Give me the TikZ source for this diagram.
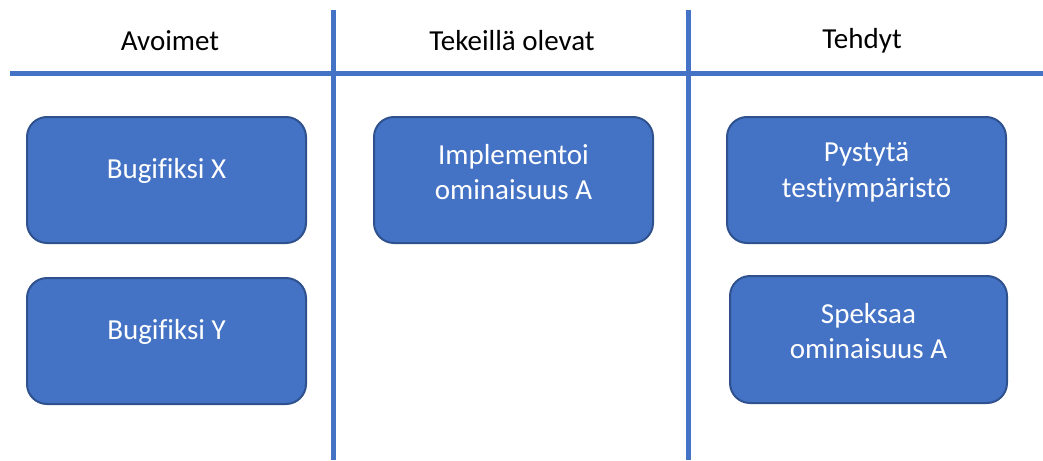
\documentclass[tikz,border=0pt]{standalone}
\usepackage{fontspec}
\setmainfont[Ligatures=NoCommon]{Carlito}
\definecolor{cardfill}{HTML}{4472C4}
\definecolor{cardedge}{HTML}{2F528F}
\definecolor{rule}{HTML}{4472C4}
\tikzset{
  card/.style={draw=cardedge, line width=2pt, fill=cardfill, rounded corners=20pt},
  cardtext/.style={text=white, font=\fontsize{29}{35.5}\selectfont, align=center},
  head/.style={font=\fontsize{29}{34}\selectfont, text=black},
  board/.style={draw=rule, line width=5pt}
}
\begin{document}
\begin{tikzpicture}[x=1pt, y=-1pt]
  \useasboundingbox (0,0) rectangle (1043,460);
  % column rules
  \coordinate (hl) at (10,73);
  \coordinate (hr) at (1043,73);
  \coordinate (v1t) at (333,10);
  \coordinate (v1b) at (333,460);
  \coordinate (v2t) at (688,10);
  \coordinate (v2b) at (688,460);
  \draw[board] (hl) -- (hr);
  \draw[board] (v1t) -- (v1b);
  \draw[board] (v2t) -- (v2b);
  % column headings
  \node[head] (h1) at (170,41) {Avoimet};
  \node[head] (h2) at (512,41) {Tekeillä olevat};
  \node[head] (h3) at (862,41) {Tehdyt};
  % cards
  \draw[card] (27,117) rectangle (306,243);
  \node[cardtext] (c1) at (166.5,171) {Bugifiksi X};
  \draw[card] (27,278) rectangle (306,404);
  \node[cardtext] (c2) at (166.5,332) {Bugifiksi Y};
  \draw[card] (374,117) rectangle (653,243);
  \node[cardtext] (c3) at (513.5,172) {Implementoi\\ominaisuus A};
  \draw[card] (727,117) rectangle (1006,243);
  \node[cardtext] (c4) at (866.5,172) {Pystytä\\testiympäristö};
  \draw[card] (730,276) rectangle (1007,403);
  \node[cardtext] (c5) at (868.5,331) {Speksaa\\ominaisuus A};
\end{tikzpicture}
\end{document}
